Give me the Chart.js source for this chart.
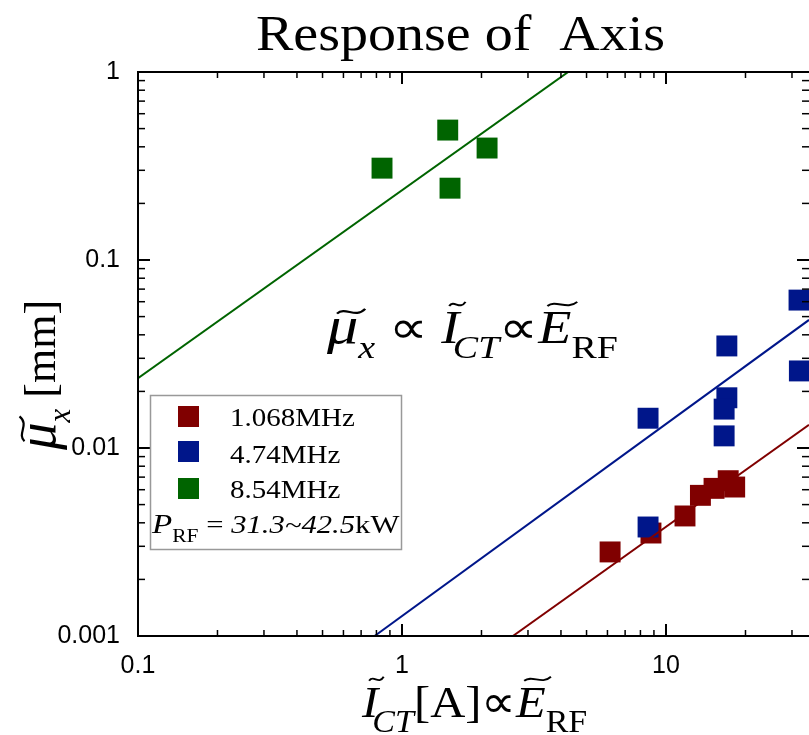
<!DOCTYPE html>
<html>
<head>
<meta charset="utf-8">
<script src="https://cdn.jsdelivr.net/npm/chart.js@4.4.1/dist/chart.umd.min.js"></script>
<style>
  html, body { margin: 0; padding: 0; background: #fff; }
  #wrap { width: 809px; height: 735px; }
</style>
</head>
<body>
<div id="wrap"><canvas id="chart" width="809" height="735"></canvas></div>
<script>
// series
const seriesNames = ['1.068MHz', '4.74MHz', '8.54MHz'];
const seriesColors = ['#800000', '#00168a', '#006400'];

const redX = [6.14, 8.77, 11.8, 13.5, 15.2, 17.2, 18.2];
const redY = [0.0028, 0.00353, 0.00435, 0.0056, 0.0061, 0.0067, 0.0062];
const blueX = [8.55, 8.55, 17.0, 17.0, 16.6, 16.6, 31.9, 32.0];
const blueY = [0.0144, 0.0038, 0.0349, 0.0185, 0.0161, 0.0116, 0.0612, 0.0257];
const greenX = [0.84, 1.49, 1.52, 2.10];
const greenY = [0.308, 0.491, 0.241, 0.394];

// fitted lines (end points)
const redFitX = [2.63, 34.8];
const redFitY = [0.001, 0.0133];
const blueFitX = [0.787, 34.8];
const blueFitY = [0.001, 0.048];
const greenFitX = [0.1, 4.3];
const greenFitY = [0.0235, 1.01];

// axis ticks
const xMajor = [0.1, 1, 10];
const yMajor = [0.001, 0.01, 0.1, 1];
const decadeSteps = [2, 3, 4, 5, 6, 7, 8, 9];

const SERIF = '"Liberation Serif", "Times New Roman", serif';
const SANS = '"Liberation Sans", Arial, sans-serif';

function pts(xs, ys) {
    return xs.map((x, i) => ({ x: x, y: ys[i] }));
}

function minorTicks(majors, lo, hi) {
    const out = [];
    majors.forEach(m => decadeSteps.forEach(s => {
        const v = m * s;
        if (v > lo && v < hi) out.push(v);
    }));
    return out;
}

function drawTilde(ctx, x, y, w, h) {
    ctx.beginPath();
    ctx.moveTo(x, y + h * 0.5);
    ctx.bezierCurveTo(x + w * 0.3, y - h * 1.1, x + w * 0.65, y + h * 1.6, x + w, y - h * 0.5);
    ctx.lineWidth = Math.max(1.3, h * 0.45);
    ctx.strokeStyle = '#000';
    ctx.stroke();
}

// draws a run of text parts: {t, it, sub, k (size factor), tilde (height in em), after (em)}
function drawRich(ctx, x, y, parts, size, sx) {
    ctx.save();
    ctx.translate(x, y);
    ctx.scale(sx, 1);
    ctx.fillStyle = '#000';
    ctx.textAlign = 'left';
    ctx.textBaseline = 'alphabetic';
    let cx = 0;
    parts.forEach(p => {
        const fs = size * (p.k || 1) * (p.sub ? 0.7 : 1);
        ctx.font = (p.it ? 'italic ' : '') + fs + 'px ' + SERIF;
        const dy = p.sub ? size * 0.33 : 0;
        ctx.fillText(p.t, cx, dy);
        const w = ctx.measureText(p.t).width;
        if (p.tilde) {
            drawTilde(ctx, cx + w * 0.08 + (p.it ? fs * 0.12 : 0), -fs * p.tilde, w * 0.9, fs * 0.09);
        }
        cx += w + (p.after || 0) * size;
    });
    ctx.restore();
}

const frame = {
    id: 'frame',
    afterDraw(chart) {
        const ctx = chart.ctx;
        const a = chart.chartArea;
        const xs = chart.scales.x;
        const ys = chart.scales.y;

        ctx.save();
        ctx.strokeStyle = '#000';
        // inward ticks on all four sides
        const tick = (x1, y1, x2, y2, lw) => {
            ctx.lineWidth = lw;
            ctx.beginPath();
            ctx.moveTo(x1, y1);
            ctx.lineTo(x2, y2);
            ctx.stroke();
        };
        xMajor.forEach(v => {
            const px = xs.getPixelForValue(v);
            tick(px, a.bottom, px, a.bottom - 12, 2);
            tick(px, a.top, px, a.top + 12, 2);
        });
        minorTicks(xMajor, xs.min, xs.max).forEach(v => {
            const px = xs.getPixelForValue(v);
            tick(px, a.bottom, px, a.bottom - 6, 1.5);
            tick(px, a.top, px, a.top + 6, 1.5);
        });
        yMajor.forEach(v => {
            const py = ys.getPixelForValue(v);
            tick(a.left, py, a.left + 12, py, 2);
            tick(a.right, py, a.right - 12, py, 2);
        });
        minorTicks(yMajor, ys.min, ys.max).forEach(v => {
            const py = ys.getPixelForValue(v);
            tick(a.left, py, a.left + 7, py, 1.5);
            tick(a.right, py, a.right - 7, py, 1.5);
        });
        // border (left, top, bottom)
        ctx.lineWidth = 2;
        ctx.beginPath();
        ctx.moveTo(a.right, a.top);
        ctx.lineTo(a.left, a.top);
        ctx.lineTo(a.left, a.bottom);
        ctx.lineTo(a.right, a.bottom);
        ctx.stroke();

        // title
        drawRich(ctx, 256, 50, [{ t: 'Response of  Axis' }], 50, 1.12);

        // annotation inside the plot
        drawRich(ctx, 327, 343, [
            { t: '\u03bc', it: true, k: 1.15, tilde: 0.6 },
            { t: 'x', it: true, sub: true },
            { t: ' \u221d ' },
            { t: 'I', it: true, tilde: 0.85, after: -0.12 },
            { t: 'CT', it: true, sub: true },
            { t: '\u221d' },
            { t: 'E', it: true, tilde: 0.85 },
            { t: 'RF', sub: true }
        ], 46, 1.18);

        // x axis title
        drawRich(ctx, 362, 717, [
            { t: 'I', it: true, tilde: 0.85, after: -0.12 },
            { t: 'CT', it: true, sub: true },
            { t: '[A]' },
            { t: '\u221d' },
            { t: 'E', it: true, tilde: 0.85 },
            { t: 'RF', sub: true }
        ], 45, 1.08);

        // y axis title (rotated)
        ctx.save();
        ctx.translate(55, 450);
        ctx.rotate(-Math.PI / 2);
        drawRich(ctx, 0, 0, [
            { t: '\u03bc', it: true, k: 1.25, tilde: 0.6 },
            { t: 'x', it: true, sub: true },
            { t: ' [mm]' }
        ], 44, 1.0);
        ctx.restore();

        // legend box
        ctx.fillStyle = '#fff';
        ctx.fillRect(150, 395, 251, 154);
        ctx.strokeStyle = '#999';
        ctx.lineWidth = 1.5;
        ctx.strokeRect(150.5, 395.5, 251, 154);
        const rows = [416, 451, 488];
        const bases = [426, 463, 498];
        seriesNames.forEach((name, i) => {
            ctx.fillStyle = seriesColors[i];
            ctx.fillRect(178, rows[i] - 10, 21, 21);
            drawRich(ctx, 230, bases[i], [{ t: name }], 25, 1.16);
        });
        drawRich(ctx, 152, 533, [
            { t: 'P', it: true, k: 1.08 },
            { t: 'RF', sub: true },
            { t: ' = ' },
            { t: '31.3~42.5', it: true },
            { t: 'kW' }
        ], 26, 1.18);
        ctx.restore();
    }
};

const pointSet = (label, xs, ys, color, order) => ({
    label: label,
    data: pts(xs, ys),
    backgroundColor: color,
    borderWidth: 0,
    pointStyle: 'rect',
    pointRadius: 14.8,
    pointHoverRadius: 14.8,
    order: order
});

const fitSet = (xs, ys, color) => ({
    type: 'line',
    data: pts(xs, ys),
    borderColor: color,
    borderWidth: 2,
    pointRadius: 0,
    showLine: true,
    fill: false,
    order: 1
});

new Chart(document.getElementById('chart'), {
    type: 'scatter',
    data: {
        datasets: [
            pointSet(seriesNames[0], redX, redY, seriesColors[0], 5),
            pointSet(seriesNames[1], blueX, blueY, seriesColors[1], 4),
            pointSet(seriesNames[2], greenX, greenY, seriesColors[2], 3),
            fitSet(redFitX, redFitY, seriesColors[0]),
            fitSet(blueFitX, blueFitY, seriesColors[1]),
            fitSet(greenFitX, greenFitY, seriesColors[2])
        ]
    },
    options: {
        responsive: false,
        animation: false,
        devicePixelRatio: 1,
        layout: { autoPadding: false, padding: { top: 72, right: 0, bottom: 0, left: 0 } },
        plugins: {
            legend: { display: false },
            title: { display: false },
            tooltip: { enabled: false }
        },
        scales: {
            x: {
                type: 'logarithmic',
                position: 'bottom',
                min: 0.1,
                max: 34.8,
                afterBuildTicks: s => { s.ticks = xMajor.map(v => ({ value: v })); },
                afterFit: s => { s.height = 99; s.paddingLeft = 0; s.paddingRight = 0; },
                grid: { display: false, drawTicks: false },
                border: { display: false },
                ticks: {
                    autoSkip: false,
                    maxRotation: 0,
                    padding: 15,
                    color: '#000',
                    font: { family: SANS, size: 25 },
                    callback: v => String(v)
                }
            },
            y: {
                type: 'logarithmic',
                min: 0.001,
                max: 1,
                afterBuildTicks: s => { s.ticks = yMajor.map(v => ({ value: v })); },
                afterFit: s => { s.width = 138; s.paddingTop = 0; s.paddingBottom = 0; },
                grid: { display: false, drawTicks: false },
                border: { display: false },
                ticks: {
                    autoSkip: false,
                    padding: 18,
                    color: '#000',
                    font: { family: SANS, size: 25 },
                    callback: v => String(v)
                }
            }
        }
    },
    plugins: [frame]
});
</script>
</body>
</html>
